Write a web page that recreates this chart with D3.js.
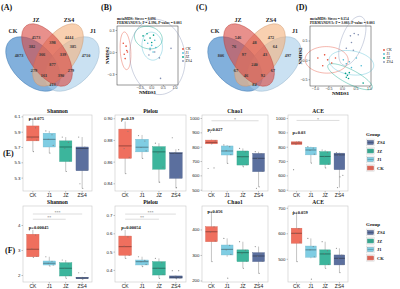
<!DOCTYPE html>
<html>
<head>
<meta charset="utf-8">
<script src="https://cdn.jsdelivr.net/npm/d3@7"></script>
<style>
    body { margin: 0; background: #fff; }
    svg { display: block; font-family: "Liberation Serif", "Times New Roman", serif; }
</style>
</head>
<body>
<div id="fig"></div>
<script>
'use strict';

// ---------- data ----------
const groups = ['CK', 'J1', 'JZ', 'ZS4'];
const legendOrder = ['ZS4', 'JZ', 'J1', 'CK'];

// venn region counts, order: CK, JZ, ZS4, J1, CK&JZ, JZ&ZS4, ZS4&J1, CK&JZ&ZS4,
// JZ&ZS4&J1, all, CK&ZS4, CK&ZS4&J1, CK&JZ&J1, JZ&J1, CK&J1
const vennCountsA = [4873, 4573, 4444, 4710, 382, 398, 385, 366, 339, 877, 279, 161, 390, 279, 413];
const vennCountsC = [806, 546, 472, 497, 76, 48, 64, 97, 43, 240, 67, 46, 92, 67, 84];

// NMDS scores [group, NMDS1, NMDS2]
const nmdsB = [
    ['CK', -1.20, 0.12], ['CK', -1.08, 0.08], ['CK', -1.05, 0.02], ['CK', -1.16, -0.03], ['CK', -1.12, -0.09], ['CK', -1.02, 0.00],
    ['J1', -0.15, 0.12], ['J1', 0.02, 0.09], ['J1', 0.15, 0.16], ['J1', -0.05, 0.05], ['J1', 0.20, 0.06], ['J1', 0.08, 0.00],
    ['JZ', -0.35, 0.22], ['JZ', -0.18, 0.25], ['JZ', -0.05, 0.19], ['JZ', 0.10, 0.23], ['JZ', -0.28, 0.16], ['JZ', 0.02, 0.13],
    ['ZS4', -0.10, -0.04], ['ZS4', 0.15, 0.00], ['ZS4', 0.35, -0.08], ['ZS4', 0.85, 0.05], ['ZS4', 0.40, -0.36], ['ZS4', -0.05, 0.03]
];
const nmdsD = [
    ['CK', -0.89, 0.05], ['CK', -0.64, 0.13], ['CK', -0.53, 0.00], ['CK', -0.38, -0.08], ['CK', -0.71, -0.15], ['CK', -0.24, 0.05],
    ['J1', 0.05, 0.00], ['J1', 0.27, -0.05], ['J1', 0.53, 0.05], ['J1', 0.71, -0.15], ['J1', 0.35, -0.20], ['J1', 0.16, -0.10],
    ['JZ', 0.13, -0.35], ['JZ', 0.20, -0.40], ['JZ', 0.27, -0.33], ['JZ', 0.16, -0.45], ['JZ', 0.24, -0.48], ['JZ', 0.78, -0.60],
    ['ZS4', 0.31, 0.62], ['ZS4', 0.45, 0.68], ['ZS4', 0.60, 0.65], ['ZS4', 0.35, 0.45], ['ZS4', 0.16, 0.30], ['ZS4', 0.42, 0.25]
];
const nmdsTitleB = ['metaMDS: Stress = 0.096', 'PERMANOVA: F = 4.396, P-value = 0.001'];
const nmdsTitleD = ['metaMDS: Stress = 0.154', 'PERMANOVA: F = 3.003, P-value = 0.001'];

// box stats per group (CK, J1, JZ, ZS4): [lower whisker, q1, median, q3, upper whisker]
const shannonE = [[5.64, 5.78, 5.83, 5.975, 6.06], [5.62, 5.70, 5.80, 5.88, 5.91], [5.38, 5.51, 5.70, 5.78, 5.83], [5.16, 5.39, 5.68, 5.70, 5.83]];
const shannonEPts = [[6.06, 5.95, 5.82, 5.79, 5.64], [5.91, 5.86, 5.80, 5.72, 5.62], [5.83, 5.76, 5.68, 5.52, 5.38], [5.83, 5.70, 5.66, 5.40, 5.16, 5.22]];
const pielouE = [[0.849, 0.863, 0.8745, 0.890, 0.897], [0.863, 0.869, 0.8733, 0.8806, 0.8846], [0.8406, 0.853, 0.869, 0.8738, 0.877], [0.8354, 0.8446, 0.8677, 0.8683, 0.8714]];
const pielouEPts = [[0.897, 0.888, 0.872, 0.864, 0.849], [0.884, 0.879, 0.873, 0.870, 0.863], [0.877, 0.872, 0.868, 0.855, 0.841], [0.882, 0.871, 0.868, 0.846, 0.836]];
const chao1E = [[815, 820, 830, 846, 850], [684, 742, 770, 805, 812], [660, 672, 730, 770, 788], [520, 626, 719, 753, 765]];
const chao1EPts = [[648, 652, 902, 840, 822], [812, 800, 772, 745, 684], [788, 765, 728, 675, 660], [765, 750, 716, 630, 520, 510]];
const aceE = [[812, 815, 825, 834, 838], [686, 743, 777, 796, 800], [652, 675, 732, 766, 777], [515, 640, 743, 755, 759]];
const aceEPts = [[640, 836, 818], [800, 790, 775, 748, 686], [777, 760, 730, 680, 652], [759, 750, 740, 600, 590, 515]];
const shannonF = [[2.71, 2.73, 3.03, 3.63, 3.80], [2.36, 2.40, 2.47, 2.56, 2.73], [1.87, 1.96, 2.27, 2.49, 2.60], [1.83, 1.85, 1.88, 1.91, 1.93]];
const shannonFPts = [[3.80, 3.60, 3.05, 2.75, 2.71], [2.73, 2.55, 2.47, 2.40, 2.36], [2.60, 2.45, 2.28, 1.98, 1.87], [2.09, 2.09, 1.90, 1.86, 1.83]];
const pielouF = [[0.463, 0.48, 0.527, 0.585, 0.618], [0.418, 0.427, 0.445, 0.454, 0.472], [0.354, 0.372, 0.409, 0.445, 0.463], [0.352, 0.355, 0.36, 0.367, 0.37]];
const pielouFPts = [[0.618, 0.58, 0.53, 0.48, 0.463], [0.472, 0.452, 0.445, 0.43, 0.418], [0.463, 0.44, 0.41, 0.375, 0.354], [0.396, 0.396, 0.365, 0.356, 0.352]];
const chao1F = [[274, 352, 391, 411, 470], [293, 300, 322, 339, 365], [248, 274, 309, 320, 352], [228, 274, 296, 309, 333]];
const chao1FPts = [[470, 410, 390, 355, 274], [365, 338, 320, 302, 209], [352, 318, 305, 276, 248], [333, 305, 295, 276, 228]];
const aceF = [[489, 561, 600, 620, 685], [502, 506, 535, 550, 580], [463, 476, 519, 535, 567], [446, 476, 502, 515, 541]];
const aceFPts = [[685, 618, 600, 565, 489], [580, 548, 535, 508, 420], [567, 532, 520, 478, 463], [541, 514, 500, 478, 446]];

// ---------- setup ----------
const W = 400, H = 289;
const svg = d3.select('#fig').append('svg').attr('width', W).attr('height', H);
svg.append('rect').attr('width', W).attr('height', H).attr('fill', '#fff');

const boxColors = {CK: '#ef6f5e', J1: '#7fcde3', JZ: '#3cb59c', ZS4: '#5b6f9e'};
const nmdsColors = {CK: '#E64B35', J1: '#4DBBD5', JZ: '#00A087', ZS4: '#8491B4'};
const vennColors = {CK: '#2f7bc4', JZ: '#d9463f', ZS4: '#f3b07c', J1: '#a7cdea'};

function panelLabel(x, y, t) {
    svg.append('text').attr('x', x).attr('y', y).text(t)
        .style('font-size', '8px').style('font-weight', 'bold').attr('fill', '#111');
}

// ---------- venn ----------
const vennShapes = [
    {set: 'CK', cx: 33, cy: 64, rx: 33, ry: 20, rot: 45},
    {set: 'J1', cx: 72, cy: 64, rx: 33, ry: 20, rot: -45},
    {set: 'ZS4', cx: 58, cy: 55, rx: 36, ry: 18, rot: -55},
    {set: 'JZ', cx: 47, cy: 55, rx: 36, ry: 18, rot: 55}
];
const vennSetLabels = [['CK', 13, 33], ['JZ', 36, 22], ['ZS4', 69, 22], ['J1', 93, 33]];
const vennRegionPos = [[19, 55], [36, 37], [69, 37], [86, 55], [32, 46], [52.5, 42], [73, 46], [42, 54],
    [63, 54], [52.5, 64], [34, 70], [44, 75], [61, 75], [71, 70], [52.5, 84]];

function drawVenn(ox, oy, counts) {
    let g = svg.append('g').attr('transform', 'translate(' + ox + ',' + oy + ')');
    g.selectAll('ellipse').data(vennShapes).enter().append('ellipse')
        .attr('cx', 0).attr('cy', 0)
        .attr('rx', d => d.rx).attr('ry', d => d.ry)
        .attr('transform', d => 'translate(' + d.cx + ',' + d.cy + ') rotate(' + d.rot + ')')
        .attr('fill', d => vennColors[d.set]).attr('fill-opacity', 0.6)
        .attr('stroke', d => d3.color(vennColors[d.set]).darker(0.5)).attr('stroke-width', 0.4);
    g.selectAll('.setlab').data(vennSetLabels).enter().append('text')
        .attr('x', d => d[1]).attr('y', d => d[2]).attr('text-anchor', 'middle')
        .style('font-size', '6px').style('font-weight', 'bold').attr('fill', '#222')
        .text(d => d[0]);
    g.selectAll('.cnt').data(counts).enter().append('text')
        .attr('x', (d, i) => vennRegionPos[i][0]).attr('y', (d, i) => vennRegionPos[i][1] + 1.5)
        .attr('text-anchor', 'middle')
        .style('font-size', '4.3px').style('font-weight', 'bold').attr('fill', '#333')
        .text(d => d);
}

// ---------- nmds ----------
function covEllipse(pts, k) {
    let n = pts.length;
    let mx = d3.mean(pts, p => p[1]), my = d3.mean(pts, p => p[2]);
    let a = d3.sum(pts, p => (p[1] - mx) * (p[1] - mx)) / (n - 1);
    let b = d3.sum(pts, p => (p[1] - mx) * (p[2] - my)) / (n - 1);
    let c = d3.sum(pts, p => (p[2] - my) * (p[2] - my)) / (n - 1);
    let l11 = Math.sqrt(a), l21 = b / l11, l22 = Math.sqrt(Math.max(c - l21 * l21, 1e-9));
    return d3.range(0, 73).map(i => {
        let t = i / 72 * 2 * Math.PI;
        return [mx + k * l11 * Math.cos(t), my + k * (l21 * Math.cos(t) + l22 * Math.sin(t))];
    });
}

function drawNmds(cfg) {
    let x = d3.scaleLinear().domain(cfg.xDomain).range([cfg.x0, cfg.x1]);
    let y = d3.scaleLinear().domain(cfg.yDomain).range([cfg.y1, cfg.y0]);
    let g = svg.append('g');

    g.append('rect').attr('x', cfg.x0).attr('y', cfg.y0)
        .attr('width', cfg.x1 - cfg.x0).attr('height', cfg.y1 - cfg.y0)
        .attr('fill', 'none').attr('stroke', '#333').attr('stroke-width', 0.5);

    cfg.title.forEach((t, i) => {
        g.append('text').attr('x', cfg.x0).attr('y', cfg.y0 - 6 + i * 4).text(t)
            .style('font-size', '3.6px').style('font-weight', 'bold').attr('fill', '#111');
    });

    let xa = g.append('g').attr('transform', 'translate(0,' + cfg.y1 + ')')
        .call(d3.axisBottom(x).tickValues(cfg.xTicks).tickSize(1.5).tickFormat(d3.format('.1f')));
    let ya = g.append('g').attr('transform', 'translate(' + cfg.x0 + ',0)')
        .call(d3.axisLeft(y).tickValues(cfg.yTicks).tickSize(1.5).tickFormat(d3.format('.1f')));
    [xa, ya].forEach(a => {
        a.select('.domain').remove();
        a.selectAll('line').attr('stroke', '#333').attr('stroke-width', 0.4);
        a.selectAll('text').style('font-size', '3.6px').style('font-family', 'inherit').attr('fill', '#333');
    });
    xa.selectAll('text').attr('dy', '0.6em').attr('y', 2);
    ya.selectAll('text').attr('x', -2.5);

    g.append('text').attr('x', (cfg.x0 + cfg.x1) / 2).attr('y', cfg.y1 + 9).attr('text-anchor', 'middle')
        .style('font-size', '5px').style('font-weight', 'bold').text('NMDS1');
    g.append('text').attr('transform', 'translate(' + (cfg.x0 - 8) + ',' + ((cfg.y0 + cfg.y1) / 2) + ') rotate(-90)')
        .attr('text-anchor', 'middle').style('font-size', '5px').style('font-weight', 'bold').text('NMDS2');

    let line = d3.line().x(p => x(p[0])).y(p => y(p[1]));
    groups.forEach(grp => {
        let pts = cfg.scores.filter(s => s[0] === grp);
        g.append('path').attr('d', line(covEllipse(pts, 3.4)))
            .attr('fill', 'none').attr('stroke', nmdsColors[grp]).attr('stroke-width', 0.5).attr('stroke-opacity', 0.8);
    });
    g.selectAll('circle.pt').data(cfg.scores).enter().append('circle')
        .attr('cx', d => x(d[1])).attr('cy', d => y(d[2])).attr('r', 0.8)
        .attr('fill', d => nmdsColors[d[0]]);

    // legend
    groups.forEach((grp, i) => {
        let ly = cfg.legendY + i * 4;
        g.append('circle').attr('cx', cfg.legendX).attr('cy', ly).attr('r', 0.9).attr('fill', nmdsColors[grp]);
        g.append('text').attr('x', cfg.legendX + 2.5).attr('y', ly + 1.3).text(grp)
            .style('font-size', '3.8px').attr('fill', '#222');
    });
}

// ---------- box plots ----------
const jitter = [-0.28, 0.22, -0.08, 0.32, 0.05, -0.18, 0.14];

function drawBox(cfg) {
    let x = d3.scaleBand().domain(groups).range([cfg.x0, cfg.x1]).paddingInner(0.25).paddingOuter(0.225);
    let y = d3.scaleLinear().domain(cfg.yDomain).range([cfg.y1, cfg.y0]);
    let bw = x.bandwidth();
    let g = svg.append('g');

    g.append('rect').attr('x', cfg.x0).attr('y', cfg.y0)
        .attr('width', cfg.x1 - cfg.x0).attr('height', cfg.y1 - cfg.y0)
        .attr('fill', 'none').attr('stroke', '#c8c8c8').attr('stroke-width', 0.6);

    g.append('text').attr('x', (cfg.x0 + cfg.x1) / 2).attr('y', cfg.y0 - 2.2).attr('text-anchor', 'middle')
        .style('font-size', '5.5px').style('font-weight', 'bold').attr('fill', '#111').text(cfg.title);

    let ya = g.append('g').attr('transform', 'translate(' + cfg.x0 + ',0)')
        .call(d3.axisLeft(y).tickValues(cfg.yTicks).tickSize(1.5).tickFormat(d3.format(cfg.fmt)));
    let xa = g.append('g').attr('transform', 'translate(0,' + cfg.y1 + ')')
        .call(d3.axisBottom(x).tickSize(1.5));
    [xa, ya].forEach(a => {
        a.select('.domain').remove();
        a.selectAll('line').attr('stroke', '#666').attr('stroke-width', 0.4);
        a.selectAll('text').style('font-family', 'inherit').attr('fill', '#222');
    });
    ya.selectAll('text').style('font-size', '4.4px').attr('x', -2.5);
    xa.selectAll('text').style('font-size', '5px').attr('y', 2.5).attr('dy', '0.75em');

    cfg.stats.forEach((s, i) => {
        let grp = groups[i];
        let cx = x(grp) + bw / 2;
        let col = boxColors[grp];
        g.append('line').attr('x1', cx).attr('x2', cx).attr('y1', y(s[0])).attr('y2', y(s[4]))
            .attr('stroke', '#8a8a8a').attr('stroke-width', 0.5);
        g.append('rect').attr('x', x(grp)).attr('width', bw)
            .attr('y', y(s[3])).attr('height', Math.max(y(s[1]) - y(s[3]), 0.5))
            .attr('fill', col).attr('stroke', d3.color(col).darker(0.3)).attr('stroke-width', 0.4);
        g.append('line').attr('x1', x(grp)).attr('x2', x(grp) + bw).attr('y1', y(s[2])).attr('y2', y(s[2]))
            .attr('stroke', d3.color(col).darker(1.4)).attr('stroke-width', 0.9);
        cfg.points[i].forEach((v, j) => {
            g.append('circle').attr('cx', cx + jitter[j % jitter.length] * bw).attr('cy', y(v))
                .attr('r', 0.6).attr('fill', '#777').attr('fill-opacity', 0.8);
        });
    });

    (cfg.sig || []).forEach(sg => {
        let xa1 = x(sg.from) + bw / 2, xa2 = x(sg.to) + bw / 2, yy = y(sg.at);
        g.append('line').attr('x1', xa1).attr('x2', xa2).attr('y1', yy).attr('y2', yy)
            .attr('stroke', '#aaa').attr('stroke-width', 0.4);
        g.append('text').attr('x', (xa1 + xa2) / 2).attr('y', yy + 0.2).attr('text-anchor', 'middle')
            .style('font-size', '4px').attr('fill', '#666').text(sg.label);
    });

    g.append('text').attr('x', x('CK') + bw / 2 - 4).attr('y', y(cfg.pAt) + 1.5)
        .style('font-size', '4.5px').style('font-weight', 'bold').attr('fill', '#111').text(cfg.p);
}

function drawGroupLegend(x0, y0) {
    let g = svg.append('g');
    g.append('text').attr('x', x0).attr('y', y0).text('Group')
        .style('font-size', '5px').style('font-weight', 'bold').attr('fill', '#111');
    legendOrder.forEach((grp, i) => {
        let yy = y0 + 3 + i * 8.5;
        g.append('rect').attr('x', x0 + 0.5).attr('y', yy).attr('width', 8).attr('height', 7)
            .attr('fill', '#f4f4f4').attr('stroke', '#ccc').attr('stroke-width', 0.3);
        g.append('rect').attr('x', x0 + 1.5).attr('y', yy + 1.5).attr('width', 6).attr('height', 4)
            .attr('fill', boxColors[grp]).attr('stroke', d3.color(boxColors[grp]).darker(0.8)).attr('stroke-width', 0.4);
        g.append('line').attr('x1', x0 + 1.5).attr('x2', x0 + 7.5).attr('y1', yy + 3.5).attr('y2', yy + 3.5)
            .attr('stroke', d3.color(boxColors[grp]).darker(1.4)).attr('stroke-width', 0.5);
        g.append('text').attr('x', x0 + 11).attr('y', yy + 5).text(grp)
            .style('font-size', '4.5px').style('font-weight', 'bold').attr('fill', '#222');
    });
}

// ---------- compose ----------
panelLabel(1, 10, '(A)');
panelLabel(101, 10, '(B)');
panelLabel(196, 10, '(C)');
panelLabel(296, 10, '(D)');
panelLabel(3, 156, '(E)');
panelLabel(5, 253, '(F)');

drawVenn(0, 0, vennCountsA);
drawVenn(202, 0, vennCountsC);

drawNmds({x0: 117, x1: 178, y0: 26, y1: 85, xDomain: [-1.47, 1.15], yDomain: [-0.45, 0.355],
    xTicks: [-0.5, 0, 0.5, 1.0], yTicks: [-0.3, 0, 0.3], scores: nmdsB, title: nmdsTitleB, legendX: 183, legendY: 49});
drawNmds({x0: 310, x1: 371, y0: 26, y1: 86, xDomain: [-1.18, 1.07], yDomain: [-0.675, 0.875],
    xTicks: [-1.0, -0.5, 0, 0.5, 1.0], yTicks: [-0.5, 0, 0.5], scores: nmdsD, title: nmdsTitleD, legendX: 384, legendY: 50});

const rowE = {y0: 115, y1: 191};
const rowF = {y0: 206, y1: 282};

drawBox({x0: 23, x1: 92, y0: rowE.y0, y1: rowE.y1, yDomain: [5.125, 6.118], yTicks: [5.3, 5.5, 5.7, 5.9, 6.1], fmt: '.1f',
    title: 'Shannon', stats: shannonE, points: shannonEPts, p: 'p=0.075', pAt: 6.066});
drawBox({x0: 115, x1: 186, y0: rowE.y0, y1: rowE.y1, yDomain: [0.8329, 0.9030], yTicks: [0.84, 0.86, 0.88, 0.90], fmt: '.2f',
    title: 'Pielou', stats: pielouE, points: pielouEPts, p: 'p=0.19', pAt: 0.8994});
drawBox({x0: 202, x1: 268, y0: rowE.y0, y1: rowE.y1, yDomain: [491, 1021], yTicks: [500, 600, 700, 800, 900, 1000], fmt: 'd',
    title: 'Chao1', stats: chao1E, points: chao1EPts, p: 'p=0.027', pAt: 923,
    sig: [{from: 'CK', to: 'ZS4', at: 981, label: '*'}]});
drawBox({x0: 288, x1: 348, y0: rowE.y0, y1: rowE.y1, yDomain: [491, 1021], yTicks: [500, 600, 700, 800, 900, 1000], fmt: 'd',
    title: 'ACE', stats: aceE, points: aceEPts, p: 'p=0.03', pAt: 900,
    sig: [{from: 'CK', to: 'ZS4', at: 983, label: '*'}]});
drawGroupLegend(366, 136);

drawBox({x0: 23, x1: 92, y0: rowF.y0, y1: rowF.y1, yDomain: [1.72, 4.76], yTicks: [2, 3, 4], fmt: 'd',
    title: 'Shannon', stats: shannonF, points: shannonFPts, p: 'p=0.00045', pAt: 3.92,
    sig: [{from: 'CK', to: 'ZS4', at: 4.44, label: '***'}, {from: 'CK', to: 'JZ', at: 4.23, label: '**'}]});
drawBox({x0: 115, x1: 186, y0: rowF.y0, y1: rowF.y1, yDomain: [0.3339, 0.7492], yTicks: [0.4, 0.5, 0.6, 0.7], fmt: '.1f',
    title: 'Pielou', stats: pielouF, points: pielouFPts, p: 'p=0.00054', pAt: 0.629,
    sig: [{from: 'CK', to: 'ZS4', at: 0.705, label: '***'}, {from: 'CK', to: 'JZ', at: 0.677, label: '**'}]});
drawBox({x0: 202, x1: 268, y0: rowF.y0, y1: rowF.y1, yDomain: [194, 492], yTicks: [200, 300, 400], fmt: 'd',
    title: 'Chao1', stats: chao1F, points: chao1FPts, p: 'p=0.056', pAt: 469});
drawBox({x0: 288, x1: 348, y0: rowF.y0, y1: rowF.y1, yDomain: [409, 707], yTicks: [500, 600, 700], fmt: 'd',
    title: 'ACE', stats: aceF, points: aceFPts, p: 'p=0.059', pAt: 683});
drawGroupLegend(366, 226);
</script>
</body>
</html>
